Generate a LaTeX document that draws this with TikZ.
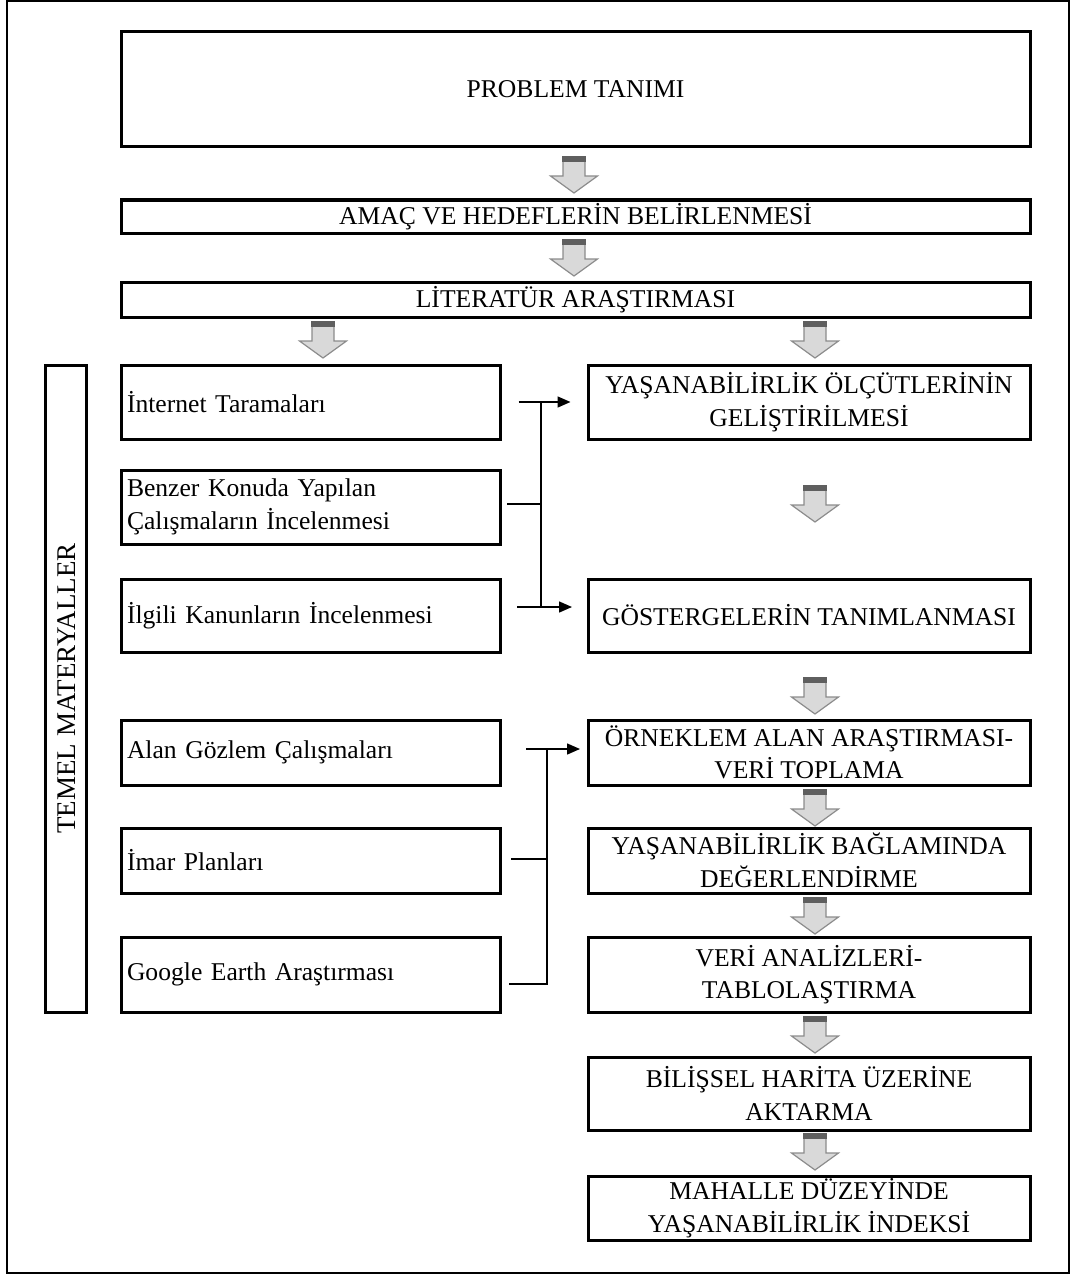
\documentclass[tikz,border=0pt]{standalone}
\usepackage{fontspec}
\setmainfont{Liberation Serif}
\usetikzlibrary{arrows.meta,calc}
\definecolor{arrfill}{HTML}{D9D9D9}
\definecolor{arrline}{HTML}{8C8C8C}
\definecolor{arrtop}{HTML}{5F5F5F}
\tikzset{
  box/.style={draw, line width=3pt, inner sep=0pt, align=center,
    font=\fontsize{25.6}{32.5}\selectfont},
  lbox/.style={draw, line width=3pt, inner ysep=0pt, inner xsep=6pt, align=left,
    text width=367pt, minimum width=379pt, font=\fontsize{25.6}{32.5}\selectfont},
  conn/.style={line width=1.5pt},
  tip/.style={line width=1.5pt, -{Triangle[length=13pt,width=11pt]}},
  barrow/.pic={
    \draw[fill=arrfill, draw=arrline, line width=1.2pt, line join=miter]
      (-11,0)--(11,0)--(11,19)--(23.5,19)--(0,36)--(-23.5,19)--(-11,19)--cycle;
    \fill[arrtop] (-11.6,-0.6) rectangle (11.6,5);
  }
}
\begin{document}
\begin{tikzpicture}[x=1pt,y=-1pt]
\useasboundingbox (0,0) rectangle (1078,1276);
\draw[line width=2pt] (7,1) rectangle (1069,1273);

% top boxes
\node[box, minimum width=909pt, minimum height=115pt] (prob) at (575.5,89.5) {PROBLEM TANIMI};
\node[box, minimum width=909pt, minimum height=33pt] (amac) at (575.5,216.5) {AMAÇ VE HEDEFLERİN BELİRLENMESİ};
\node[box, minimum width=909pt, minimum height=35pt] (lit) at (575.5,299.5) {LİTERATÜR ARAŞTIRMASI};

% side box
\node[box, minimum width=41pt, minimum height=647pt] (temel) at (65.5,688.5) {};
\node[rotate=90, font=\fontsize{27}{32}\selectfont] (temeltxt) at (67,688.5) {TEMEL MATERYALLER};

% left boxes
\node[lbox, minimum height=74pt] (l1) at (310.5,402) {İnternet Taramaları};
\node[lbox, minimum height=74pt] (l2) at (310.5,507) {Benzer Konuda Yapılan\\Çalışmaların İncelenmesi};
\node[lbox, minimum height=73pt] (l3) at (310.5,615.5) {İlgili Kanunların İncelenmesi};
\node[lbox, minimum height=65pt] (l4) at (310.5,752.5) {Alan Gözlem Çalışmaları};
\node[lbox, minimum height=65pt] (l5) at (310.5,860.5) {İmar Planları};
\node[lbox, minimum height=75pt] (l6) at (310.5,974.5) {Google Earth Araştırması};

% right boxes
\node[box, minimum width=442pt, minimum height=74pt] (r1) at (809,402) {YAŞANABİLİRLİK ÖLÇÜTLERİNİN\\GELİŞTİRİLMESİ};
\node[box, minimum width=442pt, minimum height=73pt] (r2) at (809,615.5) {GÖSTERGELERİN TANIMLANMASI};
\node[box, minimum width=442pt, minimum height=65pt] (r3) at (809,752.5) {ÖRNEKLEM ALAN ARAŞTIRMASI-\\VERİ TOPLAMA};
\node[box, minimum width=442pt, minimum height=65pt] (r4) at (809,860.5) {YAŞANABİLİRLİK BAĞLAMINDA\\DEĞERLENDİRME};
\node[box, minimum width=442pt, minimum height=75pt] (r5) at (809,974.5) {VERİ ANALİZLERİ-\\TABLOLAŞTIRMA};
\node[box, minimum width=442pt, minimum height=73pt] (r6) at (809,1093.5) {BİLİŞSEL HARİTA ÜZERİNE\\AKTARMA};
\node[box, minimum width=442pt, minimum height=64pt] (r7) at (809,1208) {MAHALLE DÜZEYİNDE\\YAŞANABİLİRLİK İNDEKSİ};

% block arrows
\pic at (574,157) {barrow};
\pic at (574,240) {barrow};
\pic at (323,322) {barrow};
\pic at (815,322) {barrow};
\pic at (815,486) {barrow};
\pic at (815,678) {barrow};
\pic at (815,790) {barrow};
\pic at (815,898) {barrow};
\pic at (815,1017) {barrow};
\pic at (815,1134) {barrow};

% connectors, top group
\coordinate (a1s) at ($(l1.east)+(17,0)$);
\coordinate (a1e) at ($(r1.west)+(-16,0)$);
\coordinate (a2s) at (517,607);
\coordinate (a2e) at (572,607);
\coordinate (v1t) at (541,402);
\coordinate (v1b) at (541,607);
\coordinate (s1) at (507,504);
\coordinate (s1e) at (541,504);
\draw[tip] (a1s) -- (a1e);
\draw[tip] (a2s) -- (a2e);
\draw[conn] (v1t) -- (v1b);
\draw[conn] (s1) -- (s1e);

% connectors, bottom group
\coordinate (b1s) at (526,749);
\coordinate (b1e) at (580,749);
\coordinate (v2t) at (547,749);
\coordinate (v2b) at (547,985);
\coordinate (s2) at (511,859);
\coordinate (s2e) at (547,859);
\coordinate (s3) at (509,984);
\coordinate (s3e) at (547,984);
\draw[tip] (b1s) -- (b1e);
\draw[conn] (v2t) -- (v2b);
\draw[conn] (s2) -- (s2e);
\draw[conn] (s3) -- (s3e);
\end{tikzpicture}
\end{document}
